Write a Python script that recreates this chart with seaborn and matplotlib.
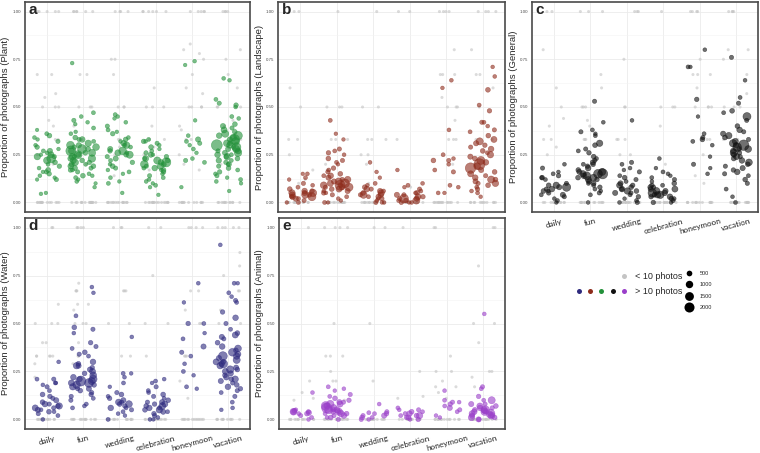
import matplotlib
matplotlib.use("Agg")
import matplotlib.pyplot as plt
from matplotlib.lines import Line2D
from matplotlib.legend_handler import HandlerTuple
import numpy as np
import pandas as pd
import seaborn as sns
import seaborn.objects as so

events = ["daily", "fun", "wedding", "celebration", "honeymoon", "vacation"]

# (proportion, number of photos) for users with > 10 photos
plant = {
    "daily": [(0.38, 60), (0.36, 150), (0.35, 300), (0.34, 120), (0.33, 80), (0.32, 200), (0.30, 100), (0.29, 250),
              (0.28, 90), (0.27, 400), (0.27, 150), (0.26, 120), (0.25, 600), (0.25, 90), (0.24, 700), (0.24, 200),
              (0.23, 1500), (0.22, 900), (0.21, 300), (0.20, 150), (0.19, 250), (0.18, 120), (0.17, 350), (0.16, 200),
              (0.16, 100), (0.15, 250), (0.14, 120), (0.13, 80), (0.12, 200), (0.12, 60), (0.05, 80), (0.045, 90)],
    "fun": [(0.73, 100), (0.47, 150), (0.45, 120), (0.43, 200), (0.42, 100), (0.41, 80), (0.39, 150), (0.37, 90),
            (0.36, 120), (0.34, 300), (0.33, 200), (0.33, 500), (0.32, 150), (0.31, 700), (0.30, 400), (0.30, 1100),
            (0.29, 250), (0.29, 800), (0.28, 1500), (0.28, 350), (0.27, 600), (0.27, 2000), (0.26, 900), (0.26, 300),
            (0.25, 1200), (0.25, 400), (0.24, 700), (0.24, 200), (0.23, 500), (0.23, 1000), (0.22, 300), (0.22, 600),
            (0.21, 250), (0.21, 800), (0.20, 400), (0.20, 150), (0.19, 300), (0.19, 500), (0.18, 200), (0.18, 350),
            (0.17, 150), (0.17, 250), (0.16, 200), (0.15, 120), (0.14, 300), (0.14, 100), (0.13, 150), (0.12, 80),
            (0.11, 120), (0.10, 60), (0.08, 90)],
    "wedding": [(0.46, 150), (0.45, 100), (0.44, 80), (0.42, 120), (0.40, 200), (0.38, 150), (0.37, 90), (0.36, 250),
                (0.34, 120), (0.33, 300), (0.32, 100), (0.31, 500), (0.30, 200), (0.30, 700), (0.29, 150), (0.28, 400),
                (0.27, 1100), (0.27, 250), (0.26, 600), (0.26, 150), (0.25, 900), (0.25, 300), (0.24, 200), (0.23, 400),
                (0.22, 150), (0.21, 250), (0.20, 120), (0.19, 300), (0.18, 200), (0.17, 100), (0.16, 150), (0.15, 90),
                (0.13, 120), (0.11, 80), (0.10, 150), (0.05, 90)],
    "celebration": [(0.33, 150), (0.32, 250), (0.32, 100), (0.31, 200), (0.30, 120), (0.29, 300), (0.28, 90),
                    (0.27, 150), (0.26, 200), (0.25, 400), (0.25, 100), (0.24, 250), (0.23, 600), (0.23, 150),
                    (0.22, 900), (0.22, 300), (0.21, 1600), (0.21, 500), (0.20, 1100), (0.20, 400), (0.19, 700),
                    (0.19, 200), (0.18, 500), (0.18, 150), (0.17, 300), (0.17, 120), (0.16, 250), (0.15, 100),
                    (0.14, 200), (0.13, 150), (0.12, 90), (0.11, 120), (0.10, 80), (0.09, 150), (0.08, 90), (0.04, 80)],
    "honeymoon": [(0.74, 100), (0.72, 80), (0.43, 90), (0.35, 120), (0.33, 400), (0.32, 150), (0.31, 200), (0.30, 100),
                  (0.28, 150), (0.26, 90), (0.23, 120), (0.22, 200), (0.21, 150), (0.08, 80)],
    "vacation": [(0.65, 120), (0.64, 100), (0.54, 150), (0.52, 200), (0.51, 250), (0.50, 120), (0.45, 150), (0.44, 120),
                 (0.41, 300), (0.40, 400), (0.39, 200), (0.38, 600), (0.37, 300), (0.36, 900), (0.35, 500), (0.35, 1400),
                 (0.34, 700), (0.33, 2000), (0.33, 400), (0.32, 1100), (0.31, 800), (0.31, 300), (0.30, 2400),
                 (0.30, 600), (0.29, 1500), (0.29, 250), (0.28, 900), (0.28, 400), (0.27, 600), (0.27, 200),
                 (0.26, 1000), (0.26, 350), (0.25, 500), (0.25, 150), (0.24, 700), (0.24, 250), (0.23, 300),
                 (0.22, 450), (0.22, 150), (0.21, 250), (0.20, 350), (0.20, 120), (0.19, 200), (0.18, 300), (0.17, 150),
                 (0.16, 250), (0.15, 120), (0.14, 200), (0.13, 90), (0.12, 150), (0.11, 120), (0.10, 80), (0.06, 90)],
}
plant_grey = {
    "daily": [1, 1, 1, 1, 1, .67, .67, .57, .55, .5, .5, .5, .43, .4, .33, .33, .25, .2,
              0, 0, 0, 0, 0, 0, 0, 0, 0, 0, 0, 0, 0, 0],
    "fun": [1, 1, 1, 1, 1, 1, .67, .67, .5, .5, .5, .4, .33, .33, .29, .25, .2, .2,
            0, 0, 0, 0, 0, 0, 0, 0, 0, 0, 0, 0, 0, 0, 0, 0],
    "wedding": [1, 1, 1, 1, .75, .75, .67, .5, .5, .5, .33, .33, .29, .25, .2, .14,
                0, 0, 0, 0, 0, 0, 0, 0, 0, 0, 0, 0, 0, 0, 0],
    "celebration": [1, 1, 1, 1, 1, 1, .6, .5, .5, .5, .4, .33, .33, .29, .25, .2, .17, .12,
                    0, 0, 0, 0, 0, 0, 0, 0, 0, 0, 0, 0, 0, 0, 0, 0],
    "honeymoon": [1, 1, 1, 1, 1, .83, .8, .78, .75, .67, .6, .57, .5, .5, .5, .5, .4, .38, .33, .33, .25, .2, .17,
                  0, 0, 0, 0, 0, 0, 0, 0, 0, 0, 0, 0],
    "vacation": [1, 1, 1, 1, .8, .75, .67, .6, .5, .5, .5, .43, .4, .33, .29, .25, .2,
                 0, 0, 0, 0, 0, 0, 0, 0, 0, 0, 0, 0],
}

landscape = {
    "daily": [(0.15, 120), (0.15, 80), (0.13, 150), (0.12, 90), (0.10, 200), (0.09, 120), (0.08, 150), (0.07, 300),
              (0.06, 250), (0.06, 500), (0.05, 700), (0.05, 400), (0.05, 1000), (0.04, 600), (0.04, 300), (0.04, 900),
              (0.03, 500), (0.03, 200), (0.03, 1200), (0.02, 400), (0.02, 150), (0.01, 200), (0.00, 150), (0.00, 90)],
    "fun": [(0.43, 150), (0.36, 90), (0.33, 80), (0.28, 200), (0.27, 150), (0.26, 250), (0.25, 120), (0.23, 300),
            (0.22, 200), (0.21, 150), (0.20, 100), (0.18, 250), (0.17, 150), (0.16, 200), (0.15, 300), (0.14, 500),
            (0.14, 150), (0.13, 400), (0.12, 700), (0.12, 250), (0.11, 900), (0.11, 400), (0.10, 1500), (0.10, 600),
            (0.09, 2000), (0.09, 800), (0.09, 300), (0.08, 1200), (0.08, 500), (0.08, 200), (0.07, 600), (0.07, 300),
            (0.06, 400), (0.06, 150), (0.05, 250), (0.05, 100), (0.04, 200), (0.03, 150), (0.02, 120), (0.01, 90),
            (0.00, 150), (0.00, 80)],
    "wedding": [(0.21, 120), (0.16, 100), (0.13, 90), (0.10, 150), (0.09, 120), (0.08, 300), (0.07, 200), (0.07, 500),
                (0.06, 400), (0.06, 150), (0.05, 700), (0.05, 300), (0.04, 500), (0.04, 200), (0.04, 900), (0.03, 400),
                (0.03, 150), (0.02, 250), (0.02, 100), (0.01, 150), (0.00, 200), (0.00, 120), (0.00, 90)],
    "celebration": [(0.17, 100), (0.10, 120), (0.09, 150), (0.08, 100), (0.07, 200), (0.06, 150), (0.05, 300),
                    (0.05, 150), (0.04, 400), (0.04, 200), (0.03, 600), (0.03, 250), (0.02, 1500), (0.02, 400),
                    (0.02, 200), (0.01, 900), (0.01, 300), (0.01, 150), (0.00, 200), (0.00, 120), (0.00, 90)],
    "honeymoon": [(0.64, 120), (0.60, 100), (0.38, 130), (0.25, 150), (0.23, 100), (0.22, 300), (0.22, 200),
                  (0.20, 120), (0.17, 150), (0.16, 200), (0.09, 150), (0.08, 120), (0.05, 130), (0.05, 90)],
    "vacation": [(0.71, 100), (0.66, 120), (0.59, 300), (0.51, 150), (0.48, 250), (0.42, 200), (0.42, 150),
                 (0.40, 120), (0.38, 200), (0.37, 150), (0.35, 300), (0.33, 600), (0.32, 900), (0.31, 400),
                 (0.30, 250), (0.29, 200), (0.28, 500), (0.27, 300), (0.26, 150), (0.25, 700), (0.24, 400),
                 (0.23, 300), (0.22, 1200), (0.21, 500), (0.20, 2500), (0.19, 800), (0.18, 2200), (0.17, 400),
                 (0.16, 300), (0.15, 600), (0.14, 200), (0.13, 500), (0.12, 300), (0.12, 900), (0.11, 400),
                 (0.10, 700), (0.10, 200), (0.09, 300), (0.08, 150), (0.07, 250), (0.06, 120), (0.05, 150), (0.03, 100)],
}
landscape_grey = {
    "daily": [1, 1, .6, .5, .33, .33, .25, .17, .12, .1, 0, 0, 0, 0, 0, 0, 0, 0, 0, 0, 0, 0],
    "fun": [1, .5, .5, .5, .33, .33, .33, .2, .17, 0, 0, 0, 0, 0, 0, 0, 0, 0, 0, 0, 0, 0, 0],
    "wedding": [1, .5, .5, .33, .33, .33, .25, .25, .2, .1, 0, 0, 0, 0, 0, 0, 0, 0, 0, 0, 0, 0, 0, 0],
    "celebration": [1, 1, .33, .08, 0, 0, 0, 0, 0, 0, 0, 0, 0, 0, 0, 0],
    "honeymoon": [1, 1, 1, 1, .8, .67, .67, .67, .55, .5, .5, .5, .43, .33, .33, .33, .2,
                  0, 0, 0, 0, 0, 0, 0, 0, 0, 0, 0, 0, 0, 0],
    "vacation": [1, 1, 1, 1, .8, .67, .67, .6, .5, .33, .33, .2, 0, 0, 0, 0, 0, 0, 0, 0, 0, 0, 0, 0],
}

general = {
    "daily": [(0.20, 120), (0.18, 200), (0.16, 100), (0.15, 150), (0.14, 250), (0.13, 120), (0.13, 300), (0.12, 150),
              (0.10, 200), (0.09, 300), (0.09, 700), (0.08, 1300), (0.08, 400), (0.07, 200), (0.07, 500), (0.06, 300),
              (0.06, 150), (0.05, 250), (0.04, 150), (0.04, 400), (0.03, 200), (0.02, 120), (0.01, 150), (0.00, 100)],
    "fun": [(0.53, 200), (0.42, 120), (0.38, 150), (0.37, 200), (0.36, 100), (0.35, 150), (0.31, 700), (0.30, 300),
            (0.28, 200), (0.27, 150), (0.26, 250), (0.24, 300), (0.23, 150), (0.22, 200), (0.21, 400), (0.20, 300),
            (0.20, 150), (0.19, 250), (0.18, 500), (0.17, 300), (0.16, 900), (0.16, 400), (0.15, 2000), (0.15, 1500),
            (0.15, 700), (0.14, 1100), (0.14, 500), (0.13, 800), (0.13, 300), (0.12, 600), (0.12, 250), (0.11, 400),
            (0.10, 300), (0.10, 150), (0.09, 200), (0.08, 250), (0.07, 150), (0.06, 120), (0.05, 200), (0.04, 150),
            (0.00, 120)],
    "wedding": [(0.43, 120), (0.21, 200), (0.20, 150), (0.18, 120), (0.17, 100), (0.16, 200), (0.14, 150), (0.13, 300),
                (0.12, 200), (0.11, 150), (0.10, 400), (0.09, 600), (0.09, 250), (0.08, 300), (0.07, 500), (0.07, 200),
                (0.06, 700), (0.06, 300), (0.05, 200), (0.05, 400), (0.04, 150), (0.03, 250), (0.02, 100), (0.01, 150),
                (0.00, 200), (0.00, 120)],
    "celebration": [(0.23, 120), (0.18, 100), (0.16, 150), (0.15, 120), (0.14, 100), (0.13, 150), (0.12, 200),
                    (0.11, 120), (0.10, 300), (0.09, 150), (0.09, 250), (0.08, 400), (0.08, 200), (0.07, 300),
                    (0.07, 600), (0.06, 400), (0.06, 900), (0.05, 1400), (0.05, 500), (0.04, 1000), (0.04, 300),
                    (0.04, 700), (0.03, 500), (0.03, 250), (0.02, 300), (0.02, 150), (0.01, 200), (0.00, 250), (0.00, 120)],
    "honeymoon": [(0.80, 120), (0.71, 150), (0.71, 100), (0.54, 250), (0.45, 90), (0.36, 150), (0.34, 200), (0.33, 300),
                  (0.32, 150), (0.30, 120), (0.24, 100), (0.20, 200), (0.18, 90), (0.15, 120)],
    "vacation": [(0.76, 200), (0.64, 120), (0.55, 150), (0.52, 200), (0.48, 300), (0.47, 150), (0.45, 1200),
                 (0.43, 200), (0.40, 300), (0.38, 500), (0.37, 200), (0.36, 400), (0.35, 700), (0.34, 300), (0.33, 200),
                 (0.32, 600), (0.31, 1000), (0.30, 2200), (0.30, 400), (0.29, 1400), (0.28, 800), (0.28, 300),
                 (0.27, 500), (0.26, 900), (0.26, 250), (0.25, 400), (0.24, 600), (0.24, 200), (0.23, 300), (0.22, 500),
                 (0.21, 800), (0.20, 300), (0.19, 200), (0.18, 400), (0.17, 250), (0.16, 500), (0.15, 200), (0.14, 150),
                 (0.12, 300), (0.10, 200), (0.07, 150), (0.03, 120), (0.00, 150)],
}
general_grey = {
    "daily": [1, 1, .8, .6, .5, .44, .4, .33, .33, .29, .25, 0, 0, 0, 0, 0, 0, 0, 0, 0, 0, 0, 0],
    "fun": [1, 1, 1, .67, .6, .5, .5, .5, .43, .4, .33, .33, .33, 0, 0, 0, 0, 0, 0, 0, 0, 0, 0, 0, 0],
    "wedding": [1, 1, 1, .75, .5, .5, .33, .33, .33, .25, .25, 0, 0, 0, 0, 0, 0, 0, 0, 0, 0, 0, 0],
    "celebration": [1, .5, .5, .5, .4, .2, 0, 0, 0, 0, 0, 0, 0, 0, 0, 0, 0, 0],
    "honeymoon": [1, 1, 1, 1, .75, .67, .67, .67, .6, .5, .5, .5, .5, .33, .33, .33, .25, .14, .1,
                  0, 0, 0, 0, 0, 0, 0, 0, 0, 0, 0, 0, 0, 0],
    "vacation": [1, 1, 1, 1, .8, .8, .75, .67, .57, .5, .5, .5, .33, .33, 0, 0, 0, 0, 0, 0, 0, 0, 0, 0, 0, 0],
}

water = {
    "daily": [(0.30, 120), (0.21, 200), (0.21, 150), (0.19, 150), (0.19, 100), (0.18, 120), (0.17, 200), (0.15, 150),
              (0.13, 300), (0.12, 250), (0.11, 200), (0.10, 400), (0.09, 300), (0.08, 500), (0.08, 200), (0.07, 700),
              (0.07, 300), (0.06, 600), (0.06, 200), (0.05, 400), (0.05, 150), (0.04, 300), (0.04, 120), (0.03, 200),
              (0.02, 150), (0.00, 120)],
    "fun": [(0.69, 120), (0.66, 100), (0.54, 150), (0.48, 300), (0.47, 200), (0.45, 120), (0.40, 250), (0.38, 200),
            (0.37, 150), (0.35, 300), (0.34, 200), (0.33, 150), (0.30, 500), (0.29, 300), (0.28, 400), (0.28, 700),
            (0.27, 250), (0.26, 400), (0.25, 600), (0.24, 300), (0.23, 800), (0.22, 500), (0.21, 1200), (0.21, 400),
            (0.20, 2000), (0.20, 900), (0.19, 1500), (0.19, 600), (0.18, 1000), (0.18, 300), (0.17, 700), (0.16, 400),
            (0.16, 200), (0.15, 300), (0.14, 200), (0.13, 250), (0.12, 200), (0.11, 150), (0.10, 200), (0.08, 150),
            (0.07, 120), (0.06, 150)],
    "wedding": [(0.43, 120), (0.24, 150), (0.24, 100), (0.22, 120), (0.19, 150), (0.17, 100), (0.14, 200), (0.13, 300),
                (0.12, 150), (0.11, 250), (0.10, 400), (0.09, 200), (0.09, 600), (0.08, 800), (0.08, 300), (0.07, 250),
                (0.06, 500), (0.06, 150), (0.05, 200), (0.04, 150), (0.03, 120), (0.02, 100), (0.00, 150)],
    "celebration": [(0.21, 120), (0.20, 150), (0.19, 100), (0.17, 200), (0.15, 150), (0.14, 120), (0.13, 300),
                    (0.12, 200), (0.11, 150), (0.10, 300), (0.09, 400), (0.09, 200), (0.08, 600), (0.08, 250),
                    (0.07, 800), (0.07, 300), (0.06, 500), (0.06, 200), (0.05, 700), (0.05, 300), (0.04, 400),
                    (0.04, 150), (0.03, 250), (0.02, 200), (0.01, 150), (0.00, 120), (0.00, 90)],
    "honeymoon": [(0.71, 120), (0.61, 100), (0.50, 250), (0.50, 150), (0.45, 100), (0.42, 150), (0.38, 400),
                  (0.35, 200), (0.33, 150), (0.29, 120), (0.25, 150), (0.23, 100), (0.17, 150), (0.16, 100)],
    "vacation": [(0.91, 120), (0.71, 150), (0.71, 100), (0.66, 150), (0.64, 120), (0.62, 200), (0.61, 150),
                 (0.56, 250), (0.53, 500), (0.50, 200), (0.47, 150), (0.45, 300), (0.44, 600), (0.43, 400),
                 (0.42, 200), (0.40, 300), (0.38, 500), (0.37, 800), (0.36, 300), (0.35, 1100), (0.34, 500),
                 (0.33, 700), (0.33, 1500), (0.32, 400), (0.31, 900), (0.30, 600), (0.30, 300), (0.29, 1300),
                 (0.29, 500), (0.28, 700), (0.27, 400), (0.26, 1000), (0.26, 300), (0.25, 600), (0.24, 400),
                 (0.23, 300), (0.22, 500), (0.21, 700), (0.21, 250), (0.20, 400), (0.19, 200), (0.18, 300),
                 (0.17, 500), (0.16, 250), (0.15, 200), (0.14, 150), (0.12, 200), (0.09, 150), (0.06, 120), (0.05, 100)],
}
water_grey = {
    "daily": [1, 1, .6, .5, .5, .5, .4, .4, .33, .33, .33, .33, .33, .29, .22,
              0, 0, 0, 0, 0, 0, 0, 0, 0, 0, 0, 0, 0, 0],
    "fun": [1, 1, 1, 1, .71, .67, .67, .67, .6, .6, .57, .5, .5, .5, .4, .33, .33, .29,
            0, 0, 0, 0, 0, 0, 0, 0, 0, 0, 0, 0, 0, 0],
    "wedding": [1, 1, 1, .67, .67, .67, .5, .5, .33, .33, 0, 0, 0, 0, 0, 0, 0, 0, 0, 0, 0, 0, 0, 0],
    "celebration": [1, 1, .75, .5, .5, .33, 0, 0, 0, 0, 0, 0, 0, 0, 0, 0, 0, 0, 0, 0],
    "honeymoon": [1, 1, 1, 1, .67, .67, .57, .5, .5, .33, .33, .33, .2, .11,
                  0, 0, 0, 0, 0, 0, 0, 0, 0, 0, 0, 0, 0, 0],
    "vacation": [1, 1, 1, 1, 1, .87, .8, .75, .67, .67, .57, .5, .5, 0, 0, 0, 0, 0, 0, 0, 0, 0, 0, 0, 0],
}

animal = {
    "daily": [(0.14, 120), (0.05, 150), (0.045, 300), (0.04, 500), (0.04, 200), (0.04, 800), (0.035, 400),
              (0.03, 300), (0.03, 150), (0.02, 200), (0.01, 150), (0.00, 120)],
    "fun": [(0.17, 150), (0.16, 120), (0.15, 100), (0.13, 200), (0.12, 150), (0.11, 300), (0.10, 250), (0.09, 400),
            (0.09, 200), (0.08, 600), (0.08, 1000), (0.07, 1500), (0.07, 500), (0.06, 800), (0.06, 2000), (0.05, 1200),
            (0.05, 600), (0.05, 300), (0.04, 900), (0.04, 400), (0.04, 200), (0.03, 700), (0.03, 300), (0.03, 150),
            (0.02, 500), (0.02, 200), (0.01, 300), (0.01, 150), (0.00, 200)],
    "wedding": [(0.08, 120), (0.04, 200), (0.035, 150), (0.03, 300), (0.03, 150), (0.02, 400), (0.02, 200),
                (0.01, 300), (0.01, 150), (0.00, 200), (0.00, 120)],
    "celebration": [(0.06, 150), (0.05, 200), (0.05, 120), (0.04, 300), (0.04, 150), (0.03, 500), (0.03, 200),
                    (0.02, 700), (0.02, 300), (0.02, 150), (0.01, 400), (0.01, 200), (0.00, 250), (0.00, 120)],
    "honeymoon": [(0.15, 120), (0.10, 150), (0.09, 200), (0.09, 120), (0.08, 250), (0.07, 150), (0.06, 400),
                  (0.05, 200), (0.04, 150), (0.02, 120), (0.01, 100)],
    "vacation": [(0.55, 120), (0.17, 200), (0.16, 150), (0.12, 250), (0.10, 900), (0.10, 150), (0.08, 400),
                 (0.08, 200), (0.07, 300), (0.07, 600), (0.06, 500), (0.06, 200), (0.05, 1200), (0.05, 700),
                 (0.05, 300), (0.04, 1000), (0.04, 500), (0.04, 200), (0.03, 1500), (0.03, 600), (0.03, 300),
                 (0.02, 900), (0.02, 400), (0.02, 200), (0.01, 700), (0.01, 300), (0.00, 400), (0.00, 200)],
}
animal_grey = {
    "daily": [1, .2, .14, .11, .1, 0, 0, 0, 0, 0, 0, 0, 0, 0, 0, 0, 0],
    "fun": [1, 1, 1, 1, .5, .33, .33, .33, .25, .2, .2, .1, 0, 0, 0, 0, 0, 0, 0, 0, 0, 0, 0, 0, 0, 0],
    "wedding": [1, 1, .5, .2, 0, 0, 0, 0, 0, 0, 0, 0, 0, 0, 0, 0],
    "celebration": [1, .25, .12, .11, 0, 0, 0, 0, 0, 0, 0, 0, 0, 0, 0, 0],
    "honeymoon": [1, 1, .33, .25, .25, .2, .17, .17, .14, .11, 0, 0, 0, 0, 0, 0, 0, 0, 0, 0, 0, 0, 0, 0],
    "vacation": [1, 1, .8, .5, .5, .4, .25, .25, .22, .17, 0, 0, 0, 0, 0, 0, 0, 0, 0, 0, 0, 0, 0, 0],
}

GREY = "#c4c4c4"
GREEN = "#23913a"
RED = "#8e2c1c"
BLACK = "#111111"
BLUE = "#2e2a7e"
PURPLE = "#9a3fc9"
SIZE_RANGE = (2.2, 8.0)
SIZE_NORM = (0, 2500)


def to_frame(groups):
    rows = [(ev, y, n) for ev in events for y, n in groups[ev]]
    return pd.DataFrame(rows, columns=["event", "prop", "photos"])


def grey_frame(groups):
    rows = [(ev, y) for ev in events for y in groups[ev]]
    return pd.DataFrame(rows, columns=["event", "prop"])


def draw_panel(ax, groups, grey, color, name, letter, show_x, theme, seed):
    (
        so.Plot()
        .add(so.Dot(color=GREY, alpha=0.6, pointsize=2.2, edgewidth=0), so.Jitter(width=0.9, seed=seed),
             data=grey_frame(grey), x="event", y="prop")
        .add(so.Dot(color=color, alpha=0.6, edgewidth=0.4), so.Jitter(width=0.9, seed=seed + 1),
             data=to_frame(groups), x="event", y="prop", pointsize="photos", legend=False)
        .scale(x=so.Nominal(order=events),
               y=so.Continuous().tick(at=[0, 0.25, 0.5, 0.75, 1]).label(like="{x:.2f}"),
               pointsize=so.Continuous(SIZE_RANGE, norm=SIZE_NORM))
        .limit(y=(-0.05, 1.05))
        .label(x="", y=f"Proportion of photographs ({name})")
        .theme(theme)
        .on(ax)
        .plot()
    )
    ax.set_xlim(-0.6, 5.6)
    ax.set_ylim(-0.05, 1.05)
    ax.set_facecolor("white")
    ax.set_axisbelow(True)
    ax.set_yticks([0.125, 0.375, 0.625, 0.875], minor=True)
    ax.grid(True, which="major", color="#ebebeb", linewidth=0.6)
    ax.grid(True, which="minor", axis="y", color="#f3f3f3", linewidth=0.4)
    ax.tick_params(which="minor", left=False, bottom=False)
    for sp in ax.spines.values():
        sp.set_visible(True)
        sp.set_color("#4a4a4a")
        sp.set_linewidth(1.2)
    ax.tick_params(axis="y", labelsize=3.2, length=2, width=0.5, color="#333333", labelcolor="#4d4d4d", pad=1)
    ax.set_ylabel(f"Proportion of photographs ({name})", fontsize=6.8)
    # label centre sits about 19 px left of the panel frame
    ax_w = ax.get_position().width * ax.figure.get_figwidth() * ax.figure.dpi
    ax.yaxis.set_label_coords(-14.5 / ax_w, 0.5)
    ax.set_xlabel("")
    if show_x:
        ax.tick_params(axis="x", labelsize=5.9, length=2, width=0.5, color="#333333", labelcolor="#222222",
                       pad=2, labelrotation=15)
        for t in ax.get_xticklabels():
            t.set_fontfamily("Lato")
    else:
        ax.tick_params(axis="x", labelbottom=False, length=0)
    ax.annotate(letter, xy=(0, 1), xycoords="axes fraction", xytext=(2.5, -1), textcoords="offset points",
                ha="left", va="top", fontsize=11, fontweight="bold")


def point_diameter(v):
    lo, hi = SIZE_RANGE
    return np.sqrt(lo ** 2 + (v - SIZE_NORM[0]) / (SIZE_NORM[1] - SIZE_NORM[0]) * (hi ** 2 - lo ** 2))


def main():
    sns.set_theme(style="whitegrid")
    plt.rcParams["font.family"] = ["Liberation Sans", "DejaVu Sans"]
    theme = {**sns.axes_style("whitegrid"), "font.family": ["Liberation Sans", "DejaVu Sans"]}

    fig = plt.figure(figsize=(7.6, 4.53), dpi=100)
    W, H = 760, 453

    def box(l, r, t, b):
        return [l / W, (H - b) / H, (r - l) / W, (b - t) / H]

    ax_a = fig.add_axes(box(25, 250, 2, 212))
    ax_b = fig.add_axes(box(278, 505, 2, 212))
    ax_c = fig.add_axes(box(532, 758, 2, 212))
    ax_d = fig.add_axes(box(25, 250, 218, 429))
    ax_e = fig.add_axes(box(279, 505, 218, 429))

    draw_panel(ax_a, plant, plant_grey, GREEN, "Plant", "a", False, theme, 10)
    draw_panel(ax_b, landscape, landscape_grey, RED, "Landscape", "b", False, theme, 20)
    draw_panel(ax_c, general, general_grey, BLACK, "General", "c", True, theme, 30)
    draw_panel(ax_d, water, water_grey, BLUE, "Water", "d", True, theme, 40)
    draw_panel(ax_e, animal, animal_grey, PURPLE, "Animal", "e", True, theme, 50)

    # legend: photo-count colour key
    def dot(c, ms=3.6):
        return Line2D([], [], marker="o", ls="", color=c, markersize=ms, markeredgewidth=0)

    blank = Line2D([], [], ls="", marker="")
    h_low = (blank, blank, blank, blank, dot(GREY))
    h_high = tuple(dot(c) for c in [BLUE, RED, GREEN, BLACK, PURPLE])
    fig.legend([h_low, h_high], ["< 10 photos", "> 10 photos"],
               handler_map={tuple: HandlerTuple(ndivide=None, pad=0.6)},
               handlelength=5.6, handletextpad=0.9, labelspacing=0.7, fontsize=6.5, frameon=False,
               loc="upper left", bbox_to_anchor=(568 / W, 1 - 264 / H))

    size_vals = [500, 1000, 1500, 2000]
    size_handles = [dot("black", point_diameter(v)) for v in size_vals]
    fig.legend(size_handles, [str(v) for v in size_vals], fontsize=4, frameon=False,
               handlelength=1.6, handletextpad=1.0, labelspacing=1.15,
               loc="upper left", bbox_to_anchor=(680 / W, 1 - 266 / H))

    fig.savefig("out.png", dpi=100)


if __name__ == "__main__":
    main()
